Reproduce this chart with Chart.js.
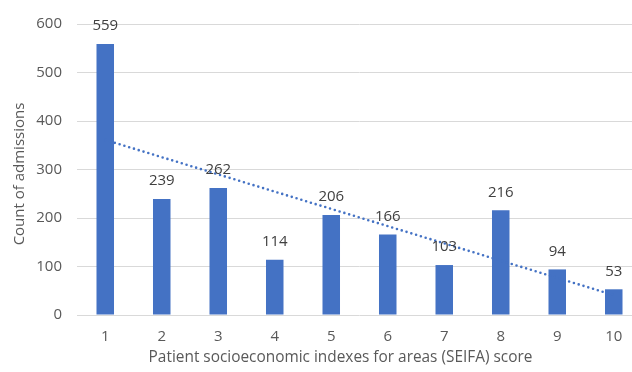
<!DOCTYPE html>
<html>
<head>
<meta charset="utf-8">
<script src="https://cdn.jsdelivr.net/npm/chart.js@4"></script>
<style>
  html, body { margin: 0; padding: 0; background: #ffffff; overflow: hidden; }
  #wrap { position: absolute; left: 0; top: 0; width: 632px; height: 372px; overflow: hidden; }
  canvas { display: block; }
</style>
</head>
<body>
<div id="wrap"><canvas id="chart" width="642" height="372"></canvas></div>
<script>
// SEIFA score categories and admission counts
const scores = ['1', '2', '3', '4', '5', '6', '7', '8', '9', '10'];
const admissions = [559, 239, 262, 114, 206, 166, 103, 216, 94, 53];
// Linear trendline end values at score 1 and score 10
const trendEnds = [361, 41];
const yTicks = [0, 100, 200, 300, 400, 500, 600];
const xTitle = 'Patient socioeconomic indexes for areas (SEIFA) score';
const yTitle = 'Count of admissions';

const FONT = "'Open Sans', 'Liberation Sans', sans-serif";
const BLUE = '#4472C4';

const trendData = scores.map((_, i) =>
  i === 0 ? trendEnds[0] : (i === scores.length - 1 ? trendEnds[1] : null));

// Draws the count above each bar
const barValueLabels = {
  id: 'barValueLabels',
  afterDatasetsDraw(chart) {
    const ctx = chart.ctx;
    const meta = chart.getDatasetMeta(0);
    ctx.save();
    ctx.font = '15px ' + FONT;
    ctx.fillStyle = '#404040';
    ctx.textAlign = 'center';
    ctx.textBaseline = 'middle';
    meta.data.forEach((bar, i) => {
      ctx.fillText(String(admissions[i]), bar.x, bar.y - 18);
    });
    ctx.restore();
  }
};

// Axis titles, placed relative to the whole chart frame
const axisTitles = {
  id: 'axisTitles',
  afterDraw(chart) {
    const ctx = chart.ctx;
    const area = chart.chartArea;
    ctx.save();
    ctx.fillStyle = '#595959';
    ctx.textAlign = 'center';
    ctx.textBaseline = 'middle';
    ctx.font = '15.4px ' + FONT;
    ctx.fillText(xTitle, 340.5, 358);
    ctx.translate(20, (area.top + area.bottom) / 2 + 4.5);
    ctx.rotate(-Math.PI / 2);
    ctx.font = '15px ' + FONT;
    ctx.fillText(yTitle, 0, 0);
    ctx.restore();
  }
};

new Chart(document.getElementById('chart'), {
  data: {
    labels: scores,
    datasets: [
      {
        type: 'bar',
        data: admissions,
        backgroundColor: BLUE,
        borderWidth: 0,
        categoryPercentage: 1,
        barPercentage: 0.31,
        order: 1
      },
      {
        type: 'line',
        data: trendData,
        spanGaps: true,
        borderColor: BLUE,
        borderWidth: 2.6,
        borderDash: [0, 5],
        borderCapStyle: 'round',
        pointRadius: 0,
        fill: false,
        tension: 0,
        order: 0
      }
    ]
  },
  options: {
    responsive: false,
    animation: false,
    layout: { padding: { top: 19, right: 0, bottom: 0, left: 0 } },
    plugins: {
      legend: { display: false },
      tooltip: { enabled: false }
    },
    scales: {
      x: {
        offset: true,
        grid: { display: false, drawTicks: false },
        border: { display: false },
        ticks: {
          color: '#595959',
          font: { family: FONT, size: 15 },
          padding: 13,
          maxRotation: 0
        },
        afterFit(scale) { scale.height = 57; }
      },
      y: {
        min: 0,
        max: 600,
        afterBuildTicks(scale) { scale.ticks = yTicks.map(v => ({ value: v })); },
        grid: { color: '#d9d9d9', lineWidth: 1, drawTicks: false },
        border: { display: false },
        ticks: {
          color: '#595959',
          font: { family: FONT, size: 15 },
          padding: 15
        },
        afterFit(scale) { scale.width = 77; }
      }
    }
  },
  plugins: [barValueLabels, axisTitles]
});
</script>
</body>
</html>
